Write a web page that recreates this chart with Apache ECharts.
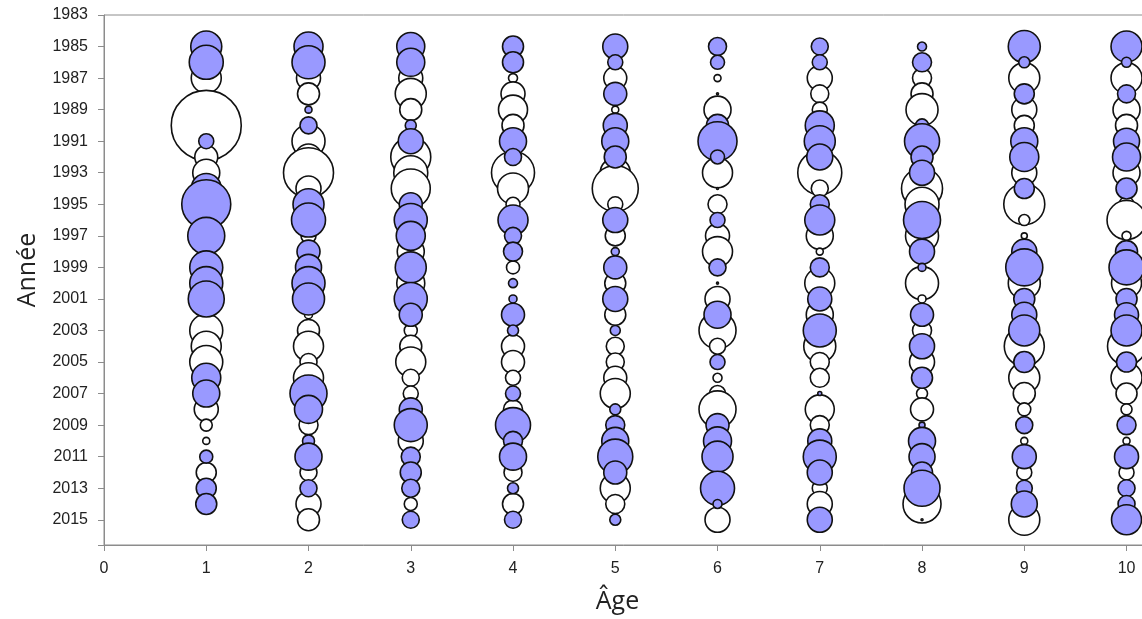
<!DOCTYPE html>
<html>
<head>
<meta charset="utf-8">
<script src="https://cdn.jsdelivr.net/npm/echarts@6/dist/echarts.min.js"></script>
<style>
  html, body { margin: 0; padding: 0; background: #fff; }
  #chart { width: 1142px; height: 619px; }
</style>
</head>
<body>
<div id="chart"></div>
<script>
// years 1985..2015, residuals per age (negative = blue, positive = white)
var years = [];
for (var y = 1985; y <= 2015; y++) years.push(y);

var age1 = [-3.1,-3.4,3.0,0.4,1.5,7.0,-1.5,2.3,2.7,-3.0,-4.9,2.0,-3.7,1.5,-3.3,-3.3,-3.6,1.5,3.3,3.0,3.3,-2.9,-2.7,2.4,1.2,0.7,-1.3,2.0,-2.0,-2.1,null];
var age2 = [-2.9,-3.3,2.4,2.2,-0.7,-1.7,3.3,2.6,5.0,2.5,-3.1,-3.4,1.5,-2.3,-2.6,-3.3,-3.2,0.8,2.2,3.0,1.7,3.0,-3.7,-2.8,1.9,-1.2,-2.7,1.7,-1.7,2.5,2.2];
var age3 = [-2.8,-2.8,2.4,3.1,2.2,-1.1,-2.5,4.0,3.4,3.9,-2.3,-3.3,-2.9,2.7,-3.1,2.8,-3.3,-2.3,1.3,2.2,3.0,1.7,1.5,-2.3,-3.3,2.5,-1.9,-2.1,-1.8,1.3,-1.7];
var age4 = [-2.1,-2.1,0.9,2.4,2.9,2.2,-2.7,-1.7,4.3,3.1,1.4,-3.0,-1.7,-1.9,1.3,-0.9,-0.8,-2.3,-1.1,2.3,2.3,1.5,-1.5,1.9,-3.5,-1.9,-2.7,1.8,-1.1,2.1,-1.7];
var age5 = [-2.5,-1.5,2.3,-2.3,0.7,-2.4,-2.7,-2.2,3.0,4.6,1.5,-2.5,2.0,-0.8,-2.3,2.1,-2.5,2.1,-1.0,1.8,1.8,2.3,3.0,-1.1,-1.9,-2.7,-3.5,-2.3,3.0,1.9,-1.1];
var age6 = [-1.8,-1.4,0.7,0.2,2.7,-2.2,-3.9,-1.4,3.0,0.2,1.9,-1.5,2.4,3.0,-1.7,0.2,2.5,-2.7,3.7,1.6,-1.5,0.9,1.6,3.7,-2.3,-2.8,-3.1,1.0,-3.4,-0.9,2.5];
var age7 = [-1.7,-1.5,2.5,1.8,1.5,-2.9,-3.1,-2.6,4.4,1.7,-1.9,-3.0,2.7,0.7,-1.9,3.0,-2.4,2.7,-3.3,3.2,1.9,1.9,-0.4,2.9,1.9,-2.4,-3.3,-2.5,1.5,2.5,-2.5];
var age8 = [-0.9,-1.9,1.9,2.2,3.2,-1.3,-3.5,-2.2,-2.5,4.1,3.4,-3.7,3.3,-2.5,-0.8,3.3,0.8,-2.3,1.9,-2.5,2.5,-2.1,1.1,2.3,-0.6,-2.7,-2.6,-2.1,-3.6,3.8,0.2];
var age9 = [-3.2,-1.1,3.1,-2.0,2.5,2.0,-2.7,-2.9,2.5,-2.0,4.1,1.1,0.6,-2.5,-3.7,3.2,-2.1,-2.5,-3.1,4.0,-2.1,3.1,2.2,1.3,-1.7,0.7,-2.4,1.5,-1.6,-2.6,3.1];
var age10 = [-3.1,-1.0,3.1,-1.8,2.7,2.2,-2.6,-2.8,2.7,-2.1,1.5,3.9,0.9,-2.2,-3.5,3.0,-2.1,-2.4,-3.1,3.8,-2.0,3.1,2.1,1.1,-1.9,0.7,-2.4,1.5,-1.7,-1.7,-3.0];

var residuals = [age1, age2, age3, age4, age5, age6, age7, age8, age9, age10];

var posData = [], negData = [];
residuals.forEach(function (row, i) {
  row.forEach(function (v, j) {
    if (v === null) return;
    var item = [i + 1, years[j], v];
    if (v >= 0) posData.push(item); else negData.push(item);
  });
});

var chart = echarts.init(document.getElementById('chart'));

var axisColor = '#8c8c8c';
var sizeOf = function (val) { return Math.abs(val[2]) * 10; };
var intOnly = function (v) { return Number.isInteger(v) ? v : ''; };

var option = {
  animation: false,
  grid: {
    left: 104,
    right: -6,
    top: 15,
    bottom: 74,
    outerBoundsMode: 'none',
    show: true,
    borderColor: axisColor,
    borderWidth: 1
  },
  xAxis: {
    type: 'value',
    min: 0,
    max: 10.21,
    interval: 1,
    name: 'Âge',
    nameLocation: 'middle',
    nameGap: 44,
    nameTextStyle: { fontFamily: 'Open Sans', fontSize: 25, color: '#222', padding: [0, 17, 0, 0] },
    axisLine: { onZero: false, lineStyle: { color: axisColor, width: 1 } },
    axisTick: { show: true, length: 6, lineStyle: { color: axisColor } },
    axisLabel: {
      margin: 16,
      fontFamily: 'Liberation Sans',
      fontSize: 16,
      color: '#222',
      formatter: intOnly
    },
    splitLine: { show: false }
  },
  yAxis: {
    type: 'value',
    inverse: true,
    min: 1983,
    max: 2016.6,
    interval: 2,
    name: 'Année',
    nameLocation: 'middle',
    nameGap: 64,
    nameTextStyle: { fontFamily: 'Open Sans', fontSize: 25, color: '#222', padding: [0, 0, 0, 20] },
    axisLine: { onZero: false, lineStyle: { color: axisColor, width: 1 } },
    axisTick: { show: true, length: 6, lineStyle: { color: axisColor } },
    axisLabel: {
      margin: 16,
      fontFamily: 'Liberation Sans',
      fontSize: 16,
      color: '#222',
      formatter: intOnly
    },
    splitLine: { show: false }
  },
  series: [
    {
      name: 'positive',
      type: 'scatter',
      symbol: 'circle',
      symbolSize: sizeOf,
      clip: false,
      itemStyle: { color: '#ffffff', borderColor: '#111', borderWidth: 1.6, opacity: 1 },
      data: posData
    },
    {
      name: 'negative',
      type: 'scatter',
      symbol: 'circle',
      symbolSize: sizeOf,
      clip: false,
      itemStyle: { color: '#9999ff', borderColor: '#111', borderWidth: 1.6, opacity: 1 },
      data: negData
    }
  ]
};

chart.setOption(option);
</script>
</body>
</html>
